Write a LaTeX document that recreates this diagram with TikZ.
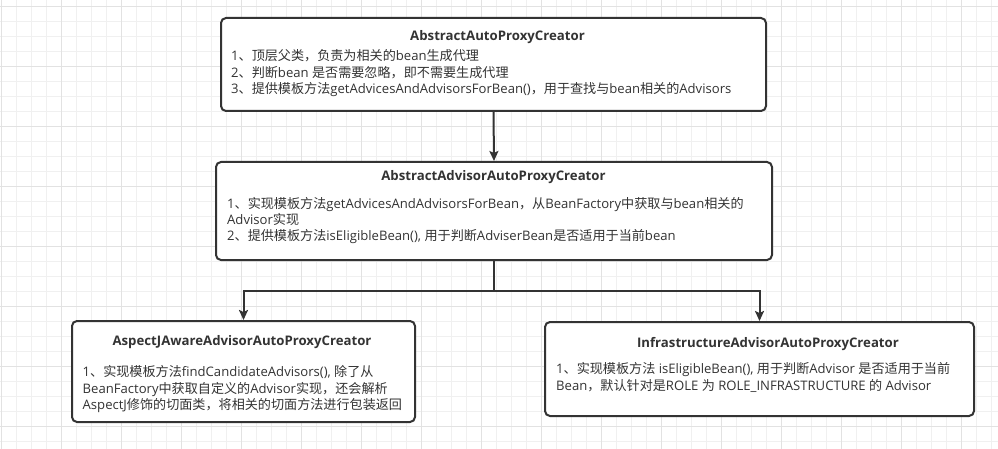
\documentclass[tikz,border=0pt]{standalone}
\usepackage{fontspec}
\setmainfont{Open Sans}
\newfontfamily\cjk{Noto Sans CJK SC}
\usetikzlibrary{arrows.meta}
\definecolor{ink}{HTML}{333333}
\definecolor{gridminor}{HTML}{F0F0F0}
\definecolor{gridmajor}{HTML}{E2E2E2}
\newcommand\C[1]{{\cjk #1}}
\tikzset{
  box/.style 2 args={draw=ink, line width=2pt, rounded corners=5pt, fill=white,
    inner sep=0pt, minimum width=#1, minimum height=#2},
  titletext/.style={font=\bfseries\fontsize{13.2}{15}\selectfont, text=ink, anchor=base, inner sep=0pt},
  bodytext/.style={font=\fontsize{13.1}{15}\selectfont, text=ink, anchor=base west, inner sep=0pt},
  conn/.style={draw=ink, line width=2pt, -{Stealth[length=10pt,width=9pt,inset=2pt]}},
}
\begin{document}
\begin{tikzpicture}[x=1pt,y=-1pt]
\useasboundingbox (0,0) rectangle (998,449);
\fill[white] (0,0) rectangle (998,449);
% grid
\foreach \k in {0,...,66} {\draw[gridminor, line width=1pt] ({1.7+15*\k},0) -- ({1.7+15*\k},449);}
\foreach \k in {0,...,29} {\draw[gridminor, line width=1pt] (0,{6.7+15*\k}) -- (998,{6.7+15*\k});}
\foreach \k in {0,...,16} {\draw[gridmajor, line width=1pt] ({1.7+60*\k},0) -- ({1.7+60*\k},449);}
\foreach \k in {0,...,7} {\draw[gridmajor, line width=1pt] (0,{6.7+60*\k}) -- (998,{6.7+60*\k});}

% boxes
\node[box={545pt}{93pt}] (b1) at (493.5,64.5) {};
\node[box={556pt}{98pt}] (b2) at (494,211) {};
\node[box={343pt}{101pt}] (b3) at (243.5,371.5) {};
\node[box={429pt}{94pt}] (b4) at (759.5,369) {};

% box 1
\node[titletext] (t1) at (497.5,40.5) {AbstractAutoProxyCreator};
\node[bodytext] (l1a) at (231,61) {1\C{、顶层父类，负责为相关的}bean\C{生成代理}};
\node[bodytext] (l1b) at (231,77.5) {2\C{、判断}bean \C{是否需要忽略，即不需要生成代理}};
\node[bodytext] (l1c) at (231,94) {3\C{、提供模板方法}getAdvicesAndAdvisorsForBean()\C{，用于查找与}bean\C{相关的}Advisors};

% box 2
\node[titletext] (t2) at (493.5,180.5) {AbstractAdvisorAutoProxyCreator};
\node[bodytext] (l2a) at (227,208.5) {1\C{、实现模板方法}getAdvicesAndAdvisorsForBean\C{，从}BeanFactory\C{中获取与}bean\C{相关的}};
\node[bodytext] (l2b) at (227,224.5) {Advisor\C{实现}};
\node[bodytext] (l2c) at (227,240.5) {2\C{、提供模板方法}isEligibleBean(), \C{用于判断}AdviserBean\C{是否适用于当前}bean};

% box 3
\node[titletext] (t3) at (242,345.5) {AspectJAwareAdvisorAutoProxyCreator};
\node[bodytext] (l3a) at (82.5,376.5) {1\C{、实现模板方法}findCandidateAdvisors(), \C{除了从}};
\node[bodytext] (l3b) at (82.5,393) {BeanFactory\C{中获取自定义的}Advisor\C{实现，还会解析}};
\node[bodytext] (l3c) at (82.5,409.5) {AspectJ\C{修饰的切面类，将相关的切面方法进行包装返回}};

% box 4
\node[titletext] (t4) at (768,347.5) {InfrastructureAdvisorAutoProxyCreator};
\node[bodytext] (l4a) at (556,373.5) {1\C{、实现模板方法} isEligibleBean(), \C{用于判断}Advisor \C{是否适用于当前}};
\node[bodytext] (l4b) at (556,390) {Bean\C{，默认针对是}ROLE \C{为} ROLE\_INFRASTRUCTURE \C{的} Advisor};

% connectors
\coordinate (split) at (494,291);
\draw[conn] (b1.south) -- (b2.north);
\draw[conn] (b2.south) -- (split) -| (b3.north);
\draw[conn] (b2.south) -- (split) -| (b4.north);
\end{tikzpicture}
\end{document}
